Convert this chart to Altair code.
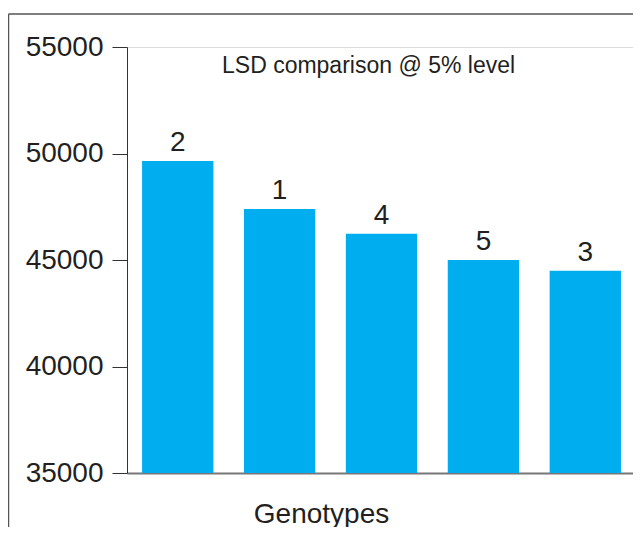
import altair as alt
import pandas as pd

genotypes = ["2", "1", "4", "5", "3"]
values = [49650, 47400, 46230, 45000, 44490]
y_ticks = [35000, 40000, 45000, 50000, 55000]
chart_title = "LSD comparison @ 5% level"
x_title = "Genotypes"

df = pd.DataFrame({"genotype": genotypes, "value": values})
one = pd.DataFrame({"k": [0]})

FONT = "Liberation Sans"
TXT = "#231F20"
W, H = 506, 426

xs = alt.X("genotype:N", sort=None,
           scale=alt.Scale(paddingInner=0.3, paddingOuter=0.133, align=0.556, round=False),
           axis=alt.Axis(labels=False, ticks=False, domain=True, domainColor="#777777",
                         domainWidth=2, title=x_title, titleFont=FONT, titleFontSize=28,
                         titleFontWeight="normal", titleColor=TXT, titleX=194, titleY=49,
                         titleBaseline="alphabetic", titleAlign="center", titleAngle=0))
ys = alt.Y("value:Q",
           scale=alt.Scale(domain=[35000, 55000], zero=False, nice=False),
           axis=alt.Axis(values=y_ticks, format="d", grid=False, title=None,
                         labelFont=FONT, labelFontSize=28, labelColor=TXT,
                         tickSize=15, tickColor="#333333", domainColor="#333333",
                         labelPadding=9, domainWidth=1, tickWidth=1))

base = alt.Chart(df)
bars = base.mark_bar(color="#00AEEF").encode(x=xs, y=ys, y2=alt.datum(35000))
labels = base.mark_text(font=FONT, fontSize=28, color=TXT, baseline="alphabetic", dy=-10).encode(
    x=alt.X("genotype:N", sort=None), y="value:Q", text="genotype:N")
single = alt.Chart(one)
title = single.mark_text(font=FONT, fontSize=23, color=TXT, align="left", baseline="alphabetic").encode(
    x=alt.value(95), y=alt.value(26), text=alt.value(chart_title))
frame_left = single.mark_rule(color="#555555", strokeWidth=1.5).encode(
    x=alt.value(-118.5), y=alt.value(-33), y2=alt.value(600))
frame_top = single.mark_rule(color="#555555", strokeWidth=1.5).encode(
    x=alt.value(-118.5), x2=alt.value(700), y=alt.value(-33))

chart = alt.layer(frame_left, frame_top, bars, labels, title).properties(
    width=W, height=H,
    autosize=alt.AutoSizeParams(type="none"),
    padding={"left": 119, "top": 39, "right": 0, "bottom": 54},
).configure_view(stroke=None).configure(background="white")

chart.save("out.html", embed_options={"renderer": "svg", "actions": False})
